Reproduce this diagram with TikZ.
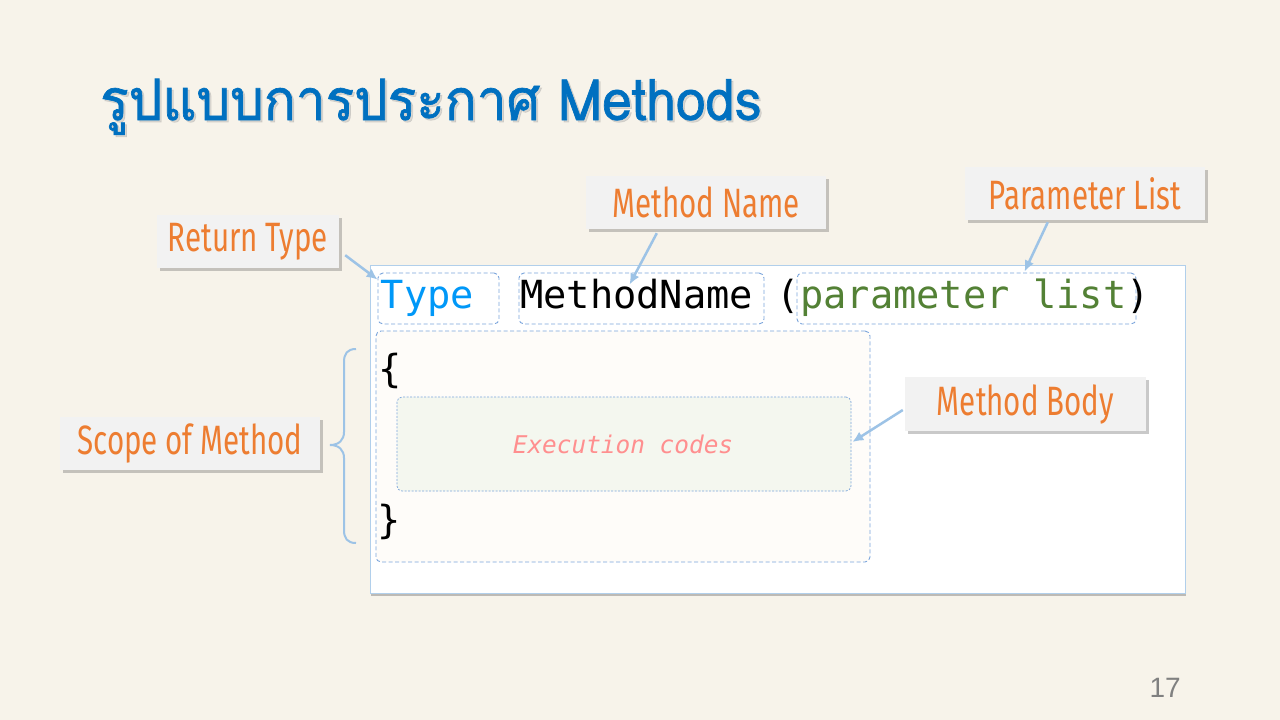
\documentclass[tikz,border=0pt]{standalone}
\usepackage{fontspec}
\usetikzlibrary{shadows,arrows.meta}
\setmonofont{DejaVu Sans Mono}
\newfontfamily\thaifont[Script=Thai,FakeStretch=0.93,FakeBold=1.2]{Loma}
\newfontfamily\condfont[FakeStretch=0.72]{Fira Sans}
\newfontfamily\pagefont{Liberation Sans}
\definecolor{bgcream}{HTML}{F7F3EA}
\definecolor{titleblue}{HTML}{0070C0}
\definecolor{labelorange}{HTML}{ED7D31}
\definecolor{labelgray}{HTML}{F2F2F2}
\definecolor{arrowblue}{HTML}{9DC3E6}
\definecolor{dashblue}{HTML}{7BA5DC}
\definecolor{typeblue}{HTML}{0098F8}
\definecolor{paramgreen}{HTML}{538135}
\definecolor{execpink}{HTML}{FF8F8F}
\definecolor{scopefill}{HTML}{FEFCF9}
\definecolor{execfill}{HTML}{F4F7EF}
\definecolor{pagegray}{HTML}{808080}
\tikzset{
  lbl/.style={fill=labelgray, inner sep=0pt, text=labelorange,
    font=\condfont\fontsize{41}{43}\selectfont,
    drop shadow={shadow xshift=3pt, shadow yshift=-3pt, opacity=0.35, fill=black!60}},
  dbox/.style={draw=dashblue, dash pattern=on 4pt off 2.5pt, line width=0.9pt, rounded corners=5pt, inner sep=0pt},
  code/.style={inner sep=0pt, anchor=base west, font=\ttfamily\fontsize{38.7}{40}\selectfont},
  arr/.style={draw=arrowblue, line width=2.5pt, -{Latex[length=11pt,width=10pt]}},
}
\begin{document}
\begin{tikzpicture}[x=1pt,y=-1pt]
\fill[bgcream] (0,0) rectangle (1280,720);
\useasboundingbox (0,0) rectangle (1280,720);
% title
\node[inner sep=0pt, anchor=base west, text=black!40, opacity=0.3, font=\thaifont\fontsize{57}{60}\selectfont] at (102,122) {รูปแบบการประกาศ Methods};
\node (title) [inner sep=0pt, anchor=base west, text=titleblue, font=\thaifont\fontsize{57}{60}\selectfont] at (100,120) {รูปแบบการประกาศ Methods};
% main white box
\node (mainbox) [draw=arrowblue!80, fill=white, line width=0.8pt, minimum width=815pt, minimum height=328pt, inner sep=0pt,
  drop shadow={shadow xshift=1pt, shadow yshift=-3pt, opacity=0.4, fill=black!60}] at (777.5,429) {};
% dashed boxes
\node (scopebox) [dbox, fill=scopefill, minimum width=494pt, minimum height=231pt] at (623,446.5) {};
\node (execbox) [dbox, fill=execfill, dash pattern=on 2pt off 1.5pt, line width=0.7pt, minimum width=454pt, minimum height=94pt] at (624,444) {};
\node (typebox) [dbox, minimum width=121pt, minimum height=51pt] at (438.5,298.5) {};
\node (namebox) [dbox, minimum width=245pt, minimum height=51pt] at (641.5,298.5) {};
\node (parambox) [dbox, minimum width=339pt, minimum height=51pt] at (966.5,298.5) {};
% code text
\node (ttype) [code, text=typeblue] at (380.5,308) {Type};
\node (tname) [code] at (520,308) {MethodName};
\node (topen) [code] at (776.6,308) {(};
\node (tparam) [code, text=paramgreen] at (800,308) {parameter list};
\node (tclose) [code] at (1126,308) {)};
\node (lbrace) [code] at (378,382) {\{};
\node (rbrace) [code] at (377,533) {\}};
\node (exec) [inner sep=0pt, text=execpink, font=\ttfamily\itshape\fontsize{24.4}{26}\selectfont] at (623,444) {Execution codes};
% labels
\node (rt) [lbl, minimum width=182pt, minimum height=53pt] at (248,241.5) {Return Type};
\node (mn) [lbl, minimum width=240pt, minimum height=53pt] at (706,202.5) {Method Name};
\node (pl) [lbl, minimum width=240pt, minimum height=53pt] at (1085,193.5) {Parameter List};
\node (sm) [lbl, minimum width=260pt, minimum height=53pt] at (190,443.5) {Scope of Method};
\node (mb) [lbl, minimum width=241pt, minimum height=54pt] at (1025.5,404) {Method Body};
% arrows
\draw[arr] ([shift={(6,-13)}]rt.south east) -- ([shift={(0,7)}]typebox.north west);
\draw[arr] ([shift={(71,4)}]mn.south west) -- ([shift={(111,12)}]namebox.north west);
\draw[arr] ([shift={(83,2)}]pl.south west) -- ([shift={(228,-1)}]parambox.north west);
\draw[arr] ([shift={(-2,6)}]mb.west) -- ([shift={(1,-2)}]execbox.east);
% brace
\draw[arrowblue, line width=2pt] (356,349) .. controls (347,349) and (344,354) .. (344,362) -- (344,432)
  .. controls (344,440) and (339,445) .. (330,445) .. controls (339,445) and (344,450) .. (344,458)
  -- (344,530) .. controls (344,538) and (347,543) .. (356,543);
% page number
\node (pnum) [inner sep=0pt, anchor=base east, text=pagegray, font=\pagefont\fontsize{28}{30}\selectfont] at (1181,697) {17};
\end{tikzpicture}
\end{document}
